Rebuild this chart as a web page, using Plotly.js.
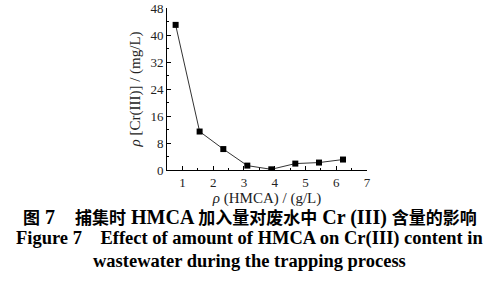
<!DOCTYPE html>
<html>
<head>
<meta charset="utf-8">
<script src="https://cdn.plot.ly/plotly-3.0.1.min.js"></script>
<style>html,body{margin:0;padding:0;background:#fff;}#chart{width:485px;height:281px;}</style>
</head>
<body>
<div id="chart"></div>
<script>
const hmcaDose = [0.78, 1.56, 2.33, 3.11, 3.89, 4.67, 5.44, 6.22];
const crContent = [43.0, 11.4, 6.2, 1.3, 0.2, 1.9, 2.2, 3.1];
const xTickVals = [1, 2, 3, 4, 5, 6, 7];
const yTickVals = [0, 8, 16, 24, 32, 40, 48];
const captionZhParts = ['图', ' 7    ', '捕集时', ' HMCA ', '加入量对废水中', ' Cr (III) ', '含量的影响'];
const captionEn1 = 'Figure 7    Effect of amount of HMCA on Cr(III) content in';
const captionEn2 = 'wastewater during the trapping process';

const serif = '"Liberation Serif", "Times New Roman", serif';
const captionZh = captionZhParts.map((p, i) =>
  i % 2 === 1 ? '<span style="font-size:20px;font-family:Liberation Serif">' + p + '</span>' : p
).join('');

const trace = {
  x: hmcaDose, y: crContent, type: 'scatter', mode: 'lines+markers',
  line: {color: '#333', width: 1},
  marker: {symbol: 'square', size: 6, color: '#000'},
  showlegend: false, hoverinfo: 'none'
};
const axisCommon = {
  showgrid: false, zeroline: false, showline: true, linecolor: '#000', linewidth: 1,
  ticks: 'inside', ticklen: 4, tickcolor: '#000', tickwidth: 1,
  tickfont: {family: serif, size: 13, color: '#222'}
};
const layout = {
  width: 485, height: 281,
  margin: {l: 167, r: 118, t: 8, b: 111},
  paper_bgcolor: '#fff', plot_bgcolor: '#fff',
  xaxis: Object.assign({}, axisCommon, {
    range: [0.5, 7], tickvals: xTickVals, ticktext: xTickVals.map(String),
    minor: {ticks: 'inside', ticklen: 2, tickcolor: '#000', dtick: 0.5, tick0: 0.5},
    title: {text: '<i>ρ</i> (HMCA) / (g/L)', font: {family: serif, size: 15, color: '#222'}, standoff: 3}
  }),
  yaxis: Object.assign({}, axisCommon, {
    range: [0, 48], tickvals: yTickVals, ticktext: yTickVals.map(String),
    minor: {ticks: 'inside', ticklen: 2, tickcolor: '#000', dtick: 4, tick0: 0},
    title: {text: '<i>ρ</i> [Cr(III)] / (mg/L)', font: {family: serif, size: 15, color: '#222'}, standoff: 6}
  }),
  annotations: [
    {text: '<b>' + captionZh + '</b>', xref: 'paper', yref: 'paper', x: 0.415, y: -0.287,
     xanchor: 'center', yanchor: 'middle', showarrow: false,
     font: {family: '"Noto Sans CJK SC", sans-serif', size: 17, color: '#000'}},
    {text: '<b>' + captionEn1 + '</b>', xref: 'paper', yref: 'paper', x: 0.41, y: -0.42,
     xanchor: 'center', yanchor: 'middle', showarrow: false,
     font: {family: serif, size: 18.5, color: '#000'}},
    {text: '<b>' + captionEn2 + '</b>', xref: 'paper', yref: 'paper', x: 0.41, y: -0.562,
     xanchor: 'center', yanchor: 'middle', showarrow: false,
     font: {family: serif, size: 18.5, color: '#000'}}
  ]
};
Plotly.newPlot('chart', [trace], layout, {staticPlot: true, displayModeBar: false});
</script>
</body>
</html>
